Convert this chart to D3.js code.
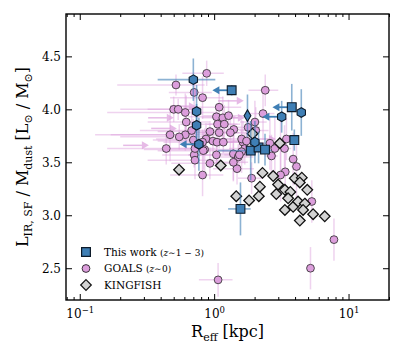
<!DOCTYPE html>
<html>
<head>
<meta charset="utf-8">
<script src="https://cdn.jsdelivr.net/npm/d3@7"></script>
<style>
  body { margin: 0; background: #fff; }
  text { font-family: "DejaVu Serif", serif; fill: #000; }
</style>
</head>
<body>
<div id="chart"></div>
<script>
// ---- data ----
// This work (z~1-3)
const thisR = [0.70, 1.35, 0.74, 0.74, 0.77, 1.77, 1.87, 2.14, 2.39, 2.01, 3.18, 3.78, 4.45, 3.95, 1.57];
const thisRatio = [4.28, 4.18, 3.98, 3.85, 3.67, 3.94, 3.61, 3.64, 3.62, 3.69, 3.93, 4.02, 3.97, 3.71, 3.06];
const thisRerr = [0.32, 0, 0, 0, 0, 0, 0.8, 0, 0, 0, 0, 0, 0, 0, 0.3];
const thisRatioErr = [0.2, 0.05, 0.25, 0.2, 0.25, 0.2, 0.28, 0.15, 0.15, 0.2, 0.15, 0.22, 0.22, 0.1, 0.25];
const thisShape = ["hex", "square", "hex", "hex", "hex", "thin", "square", "square", "square", "hex", "hex", "square", "hex", "square", "square"];
const thisUpperLim = [0, 1, 0, 0, 1, 0, 0, 0, 0, 0, 1, 1, 0, 0, 0];

// GOALS (z~0)
const goalsR = [0.88, 0.52, 0.71, 0.82, 2.40, 0.50, 0.54, 0.61, 0.62, 1.09, 1.04, 1.16, 1.28, 1.06, 1.19,
  1.40, 1.32, 1.09, 0.93, 0.68, 0.61, 0.55, 0.47, 0.87, 0.98, 1.05, 1.17, 0.44, 0.85, 0.71, 0.72, 0.93,
  0.82, 1.48, 1.39, 1.51, 1.64, 1.69, 1.60, 2.31, 2.01, 1.79, 2.04, 1.74, 0.82, 0.70, 0.72, 0.83, 1.04,
  1.60, 1.54, 1.39, 2.60, 2.83, 3.45, 3.12, 3.34, 2.67, 3.87, 4.10, 3.38, 3.12, 1.90, 5.33, 7.79, 5.21, 1.07];
const goalsRatio = [4.34, 4.23, 4.16, 4.11, 4.18, 4.00, 4.00, 3.97, 3.88, 4.02, 3.93, 3.92, 3.94, 3.86, 3.86,
  3.81, 3.78, 3.78, 3.79, 3.80, 3.76, 3.74, 3.76, 3.72, 3.70, 3.69, 3.69, 3.63, 3.62, 3.57, 3.52, 3.49,
  3.38, 3.44, 3.58, 3.55, 3.69, 3.63, 3.72, 3.96, 3.88, 3.83, 3.80, 3.70, 3.69, 3.71, 3.63, 3.61, 3.57,
  3.60, 3.57, 3.50, 3.68, 3.63, 3.72, 3.67, 3.63, 3.56, 3.53, 3.46, 3.41, 3.38, 3.35, 3.13, 2.77, 2.50, 2.39];
const goalsRerr = [0.30, 0.33, 0.25, 0.35, 0.60, 0.30, 0.22, 0.45, 0.30, 0.50, 0.40, 0.35, 0.45, 0.50, 0.30,
  0.40, 0.60, 0.45, 0.55, 0.40, 0.48, 0.35, 0.30, 0.50, 0.60, 0.35, 0.40, 0.28, 0.55, 0.30, 0.40, 0.45,
  0.35, 0.50, 0.40, 0.45, 0.50, 0.40, 0.55, 0.50, 0.45, 0.40, 0.50, 0.40, 0.40, 0.35, 0.30, 0.45, 0.40,
  0.45, 0.35, 0.40, 0.50, 0.45, 0.40, 0.35, 0.40, 0.30, 0.30, 0.35, 0.30, 0.35, 0.40, 0.40, 0.50, 0.30, 0.30];
const goalsRatioErr = [0.12, 0.10, 0.15, 0.20, 0.15, 0.12, 0.10, 0.18, 0.25, 0.15, 0.12, 0.20, 0.15, 0.10, 0.18,
  0.12, 0.20, 0.15, 0.10, 0.20, 0.15, 0.12, 0.25, 0.15, 0.12, 0.20, 0.10, 0.15, 0.20, 0.12, 0.18, 0.15,
  0.20, 0.15, 0.25, 0.12, 0.20, 0.15, 0.18, 0.25, 0.20, 0.15, 0.22, 0.15, 0.12, 0.20, 0.15, 0.18, 0.12,
  0.20, 0.15, 0.18, 0.25, 0.30, 0.20, 0.25, 0.22, 0.20, 0.25, 0.30, 0.20, 0.25, 0.15, 0.20, 0.20, 0.20, 0.16];
// GOALS lower limits on R_eff
const goalsLimR = [0.305, 0.468, 0.493, 0.683, 1.55, 1.58, 2.69];
const goalsLimRatio = [3.66, 3.92, 3.82, 4.03, 4.08, 3.92, 3.72];

// KINGFISH
const kingR = [0.548, 1.12, 1.93, 3.08, 1.46, 1.82, 2.15, 2.19, 2.29, 2.75, 2.99, 2.90, 3.36, 3.69,
  3.98, 4.49, 4.34, 4.93, 3.36, 3.87, 4.21, 4.73, 4.34, 5.45, 6.65, 4.59, 3.55];
const kingRatio = [3.43, 3.47, 3.77, 3.68, 3.18, 3.14, 3.18, 3.27, 3.40, 3.37, 3.29, 3.20, 3.24, 3.22,
  3.35, 3.355, 3.31, 3.24, 3.05, 3.08, 3.13, 3.11, 2.95, 3.01, 2.99, 3.05, 3.16];

const yTicks = [2.5, 3.0, 3.5, 4.0, 4.5];
const xTicks = [0.1, 1, 10];
const xTickExp = ["\u22121", "0", "1"];

// ---- layout ----
const margin = { top: 14, right: 14, bottom: 58, left: 66 },
  width = 403 - margin.left - margin.right,
  height = 358 - margin.top - margin.bottom;

const svg = d3
  .select("#chart")
  .append("svg")
  .attr("width", 403)
  .attr("height", 358)
  .append("g")
  .attr("transform", `translate(${margin.left}, ${margin.top})`);

const x = d3.scaleLog().domain([0.079, 20]).range([0, width]);
const y = d3.scaleLinear().domain([2.2, 4.9]).range([height, 0]);

svg.append("clipPath").attr("id", "clip")
  .append("rect").attr("width", width).attr("height", height);

const plot = svg.append("g").attr("clip-path", "url(#clip)");

const pink = "#dc9edc";
const blue = "#3f7fb5";
const xmin = x.domain()[0];

// GOALS error bars
const goalsIdx = d3.range(goalsR.length);
const gErr = plot.append("g").attr("stroke", pink).attr("stroke-opacity", 0.45).attr("stroke-width", 1.5);
gErr.selectAll(".h").data(goalsIdx).enter().append("line")
  .attr("x1", i => x(Math.max(goalsR[i] - goalsRerr[i], xmin)))
  .attr("x2", i => x(goalsR[i] + goalsRerr[i]))
  .attr("y1", i => y(goalsRatio[i])).attr("y2", i => y(goalsRatio[i]));
gErr.selectAll(".v").data(goalsIdx).enter().append("line")
  .attr("x1", i => x(goalsR[i])).attr("x2", i => x(goalsR[i]))
  .attr("y1", i => y(goalsRatio[i] - goalsRatioErr[i]))
  .attr("y2", i => y(goalsRatio[i] + goalsRatioErr[i]));

// GOALS lower-limit arrows
const limIdx = d3.range(goalsLimR.length);
const gLim = plot.append("g").attr("opacity", 0.7);
gLim.selectAll("line").data(limIdx).enter().append("line")
  .attr("x1", i => x(goalsLimR[i] / 1.45)).attr("x2", i => x(goalsLimR[i]))
  .attr("y1", i => y(goalsLimRatio[i])).attr("y2", i => y(goalsLimRatio[i]))
  .attr("stroke", pink).attr("stroke-width", 1.5);
gLim.selectAll("path").data(limIdx).enter().append("path")
  .attr("d", "M4,0L-3,-4L-3,4Z")
  .attr("transform", i => `translate(${x(goalsLimR[i])},${y(goalsLimRatio[i])})`)
  .attr("fill", pink);

// GOALS points
plot.append("g").selectAll("circle").data(goalsIdx).enter().append("circle")
  .attr("cx", i => x(goalsR[i])).attr("cy", i => y(goalsRatio[i]))
  .attr("r", 3.9)
  .attr("fill", pink).attr("stroke", "#2a2a2a").attr("stroke-width", 0.8);

// KINGFISH
const kingIdx = d3.range(kingR.length);
plot.append("g").selectAll("path").data(kingIdx).enter().append("path")
  .attr("d", "M0,-5.3L5.3,0L0,5.3L-5.3,0Z")
  .attr("transform", i => `translate(${x(kingR[i])},${y(kingRatio[i])})`)
  .attr("fill", "#d3d3d3").attr("stroke", "#111").attr("stroke-width", 1.3);

// This work error bars
const thisIdx = d3.range(thisR.length);
const bErr = plot.append("g").attr("stroke", blue).attr("stroke-opacity", 0.6).attr("stroke-width", 1.6);
bErr.selectAll(".h").data(thisIdx.filter(i => thisRerr[i] > 0)).enter().append("line")
  .attr("x1", i => x(Math.max(thisR[i] - thisRerr[i], xmin)))
  .attr("x2", i => x(thisR[i] + thisRerr[i]))
  .attr("y1", i => y(thisRatio[i])).attr("y2", i => y(thisRatio[i]));
bErr.selectAll(".v").data(thisIdx).enter().append("line")
  .attr("x1", i => x(thisR[i])).attr("x2", i => x(thisR[i]))
  .attr("y1", i => y(thisRatio[i] - thisRatioErr[i]))
  .attr("y2", i => y(thisRatio[i] + thisRatioErr[i]));

// upper-limit arrows (pointing left)
const limB = thisIdx.filter(i => thisUpperLim[i]);
const bLim = plot.append("g");
bLim.selectAll("line").data(limB).enter().append("line")
  .attr("x1", i => x(thisR[i])).attr("x2", i => x(thisR[i] / 1.3))
  .attr("y1", i => y(thisRatio[i])).attr("y2", i => y(thisRatio[i]))
  .attr("stroke", blue).attr("stroke-width", 1.8);
bLim.selectAll("path").data(limB).enter().append("path")
  .attr("d", "M-4,0L3,-4L3,4Z")
  .attr("transform", i => `translate(${x(thisR[i] / 1.3)},${y(thisRatio[i])})`)
  .attr("fill", blue);

function shapePath(s) {
  if (s === "square") return "M-4.4,-4.4H4.4V4.4H-4.4Z";
  if (s === "thin") return "M0,-5.8L3.4,0L0,5.8L-3.4,0Z";
  const r = 4.8;
  return d3.range(6).map(k => {
    const a = Math.PI / 2 + k * Math.PI / 3;
    return (k ? "L" : "M") + (r * Math.cos(a)).toFixed(2) + "," + (-r * Math.sin(a)).toFixed(2);
  }).join("") + "Z";
}

plot.append("g").selectAll("path").data(thisIdx).enter().append("path")
  .attr("d", i => shapePath(thisShape[i]))
  .attr("transform", i => `translate(${x(thisR[i])},${y(thisRatio[i])})`)
  .attr("fill", blue).attr("stroke", "#0d1b2a").attr("stroke-width", 1.1);

// ---- axes ----
const minorX = [];
[0.01, 0.1, 1, 10].forEach(d => { for (let k = 2; k <= 9; k++) minorX.push(d * k); });
const minorXin = minorX.filter(v => v >= 0.079 && v <= 20);

function styleAxis(g) {
  g.select(".domain").remove();
  g.selectAll(".tick line").attr("stroke", "#000").attr("stroke-width", 1);
}

svg.append("g").attr("transform", `translate(0,${height})`)
  .call(d3.axisBottom(x).tickValues(minorXin).tickSize(-3).tickFormat(""))
  .call(styleAxis);
svg.append("g")
  .call(d3.axisTop(x).tickValues(minorXin).tickSize(-3).tickFormat(""))
  .call(styleAxis);
svg.append("g")
  .call(d3.axisTop(x).tickValues(xTicks).tickSize(-6).tickFormat(""))
  .call(styleAxis);

const xAxis = svg.append("g").attr("transform", `translate(0,${height})`)
  .call(d3.axisBottom(x).tickValues(xTicks).tickSize(-6).tickPadding(9).tickFormat(() => ""))
  .call(styleAxis);
xAxis.selectAll(".tick text").each(function (d, i) {
  const t = d3.select(this).attr("font-size", 12).attr("font-family", "DejaVu Serif");
  t.append("tspan").text("10");
  t.append("tspan").attr("font-size", 8.5).attr("dy", "-0.55em").text(xTickExp[i]);
});

svg.append("g")
  .call(d3.axisLeft(y).tickValues(yTicks).tickSize(-6).tickPadding(5).tickFormat(d3.format(".1f")))
  .call(styleAxis)
  .selectAll("text").attr("font-size", 12).attr("font-family", "DejaVu Serif");
svg.append("g").attr("transform", `translate(${width},0)`)
  .call(d3.axisRight(y).tickValues(yTicks).tickSize(-6).tickFormat(""))
  .call(styleAxis);

svg.append("rect").attr("width", width).attr("height", height)
  .attr("fill", "none").attr("stroke", "#000").attr("stroke-width", 1.4);

// axis labels
const xl = svg.append("text")
  .attr("x", width / 2).attr("y", height + 37)
  .attr("text-anchor", "middle").attr("font-size", 16);
xl.append("tspan").text("R");
xl.append("tspan").attr("font-size", 11).attr("dy", 4).text("eff");
xl.append("tspan").attr("dy", -4).text(" [kpc]");

const yl = svg.append("text")
  .attr("transform", `translate(${-38},${height / 2}) rotate(-90)`)
  .attr("text-anchor", "middle").attr("font-size", 16);
yl.append("tspan").text("L");
yl.append("tspan").attr("font-size", 11).attr("dy", 4).text("IR, SF");
yl.append("tspan").attr("dy", -4).text(" / M");
yl.append("tspan").attr("font-size", 11).attr("dy", 4).text("dust");
yl.append("tspan").attr("dy", -4).text(" [L");
yl.append("tspan").attr("font-size", 11).attr("dy", 4).text("\u2299");
yl.append("tspan").attr("dy", -4).text(" / M");
yl.append("tspan").attr("font-size", 11).attr("dy", 4).text("\u2299");
yl.append("tspan").attr("dy", -4).text("]");

// legend
const legend = svg.append("g").attr("transform", "translate(20,238)");
const legItems = [
  { shape: "square", fill: blue },
  { shape: "circle", fill: pink },
  { shape: "diamond", fill: "#d3d3d3" }
];
legItems.forEach((d, i) => {
  const g = legend.append("g").attr("transform", `translate(0,${i * 16.5})`);
  if (d.shape === "square") g.append("path").attr("d", shapePath("square"));
  else if (d.shape === "circle") g.append("circle").attr("r", 3.9);
  else g.append("path").attr("d", "M0,-5.3L5.3,0L0,5.3L-5.3,0Z");
  g.select("*").attr("fill", d.fill)
    .attr("stroke", d.shape === "square" ? "#0d1b2a" : "#111")
    .attr("stroke-width", d.shape === "circle" ? 0.8 : 1.2);
});
const l1 = legend.append("text").attr("x", 18).attr("y", 3.5).attr("font-size", 10.5);
l1.append("tspan").text("This work ");
l1.append("tspan").attr("font-size", 9).text("(");
l1.append("tspan").attr("font-size", 9).attr("font-style", "italic").text("z");
l1.append("tspan").attr("font-size", 9).text("\u223c1 \u2212 3)");
const l2 = legend.append("text").attr("x", 18).attr("y", 20).attr("font-size", 10.5);
l2.append("tspan").text("GOALS ");
l2.append("tspan").attr("font-size", 9).text("(");
l2.append("tspan").attr("font-size", 9).attr("font-style", "italic").text("z");
l2.append("tspan").attr("font-size", 9).text("\u223c0)");
legend.append("text").attr("x", 18).attr("y", 36.5).attr("font-size", 10.5).text("KINGFISH");
</script>
</body>
</html>
